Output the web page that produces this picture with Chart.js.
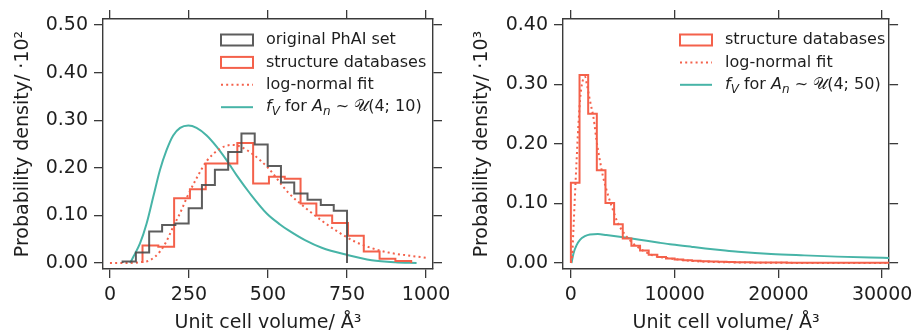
<!DOCTYPE html>
<html><head><meta charset="utf-8">
<script src="https://cdn.jsdelivr.net/npm/chart.js@4.4.1/dist/chart.umd.min.js"></script>
<style>
html,body{margin:0;padding:0;background:#fff;width:919px;height:335px;overflow:hidden}
canvas{position:absolute;top:0}
#c1{left:0}#c2{left:459px}
</style></head>
<body>
<canvas id="c1" width="459" height="335"></canvas>
<canvas id="c2" width="460" height="335"></canvas>
<script>
// ---------- LEFT PANEL DATA ----------
const grayEdges = [40, 82, 124, 165, 207, 249, 291, 332, 374, 416, 458, 499, 541, 583, 625, 667, 708, 750];
const grayDensity = [0.003, 0.022, 0.066, 0.080, 0.083, 0.115, 0.164, 0.196, 0.233, 0.272, 0.249, 0.204, 0.169, 0.146, 0.133, 0.122, 0.110];
const redEdges = [103, 153, 203, 253, 303, 353, 403, 453, 503, 553, 603, 653, 703, 753, 803, 853, 903, 953];
const redDensity = [0.037, 0.034, 0.136, 0.155, 0.209, 0.209, 0.252, 0.167, 0.181, 0.177, 0.125, 0.100, 0.084, 0.057, 0.024, 0.009, 0.004];
const lnLeftX = [0, 50, 100, 127, 158, 179, 200, 222, 243, 274, 306, 348, 385, 411, 453, 500, 564, 620, 670, 720, 775, 830, 881, 940, 1000];
const lnLeftY = [0, 0, 0.002, 0.006, 0.024, 0.046, 0.076, 0.105, 0.137, 0.178, 0.214, 0.240, 0.248, 0.245, 0.228, 0.200, 0.148, 0.115, 0.089, 0.066, 0.045, 0.031, 0.022, 0.016, 0.011];
const tealLeftX = [64, 74, 95, 116, 137, 158, 179, 200, 222, 248, 274, 306, 338, 369, 401, 443, 496, 538, 564, 617, 670, 751, 828, 902, 970];
const tealLeftY = [0, 0.013, 0.041, 0.083, 0.139, 0.195, 0.237, 0.268, 0.284, 0.289, 0.284, 0.268, 0.244, 0.216, 0.184, 0.146, 0.104, 0.081, 0.069, 0.048, 0.032, 0.017, 0.006, 0.0015, 0];
const leftXTicks = [0, 250, 500, 750, 1000];
const leftYTicks = [0.0, 0.1, 0.2, 0.3, 0.4, 0.5];

// ---------- RIGHT PANEL DATA ----------
const redEdgesR = [0, 833, 1667, 2500, 3333, 4167, 5000, 5833, 6667, 7500, 8333, 9167, 10000, 10833, 11667, 12500, 13333, 14167, 15000, 15833, 16667, 17500, 18333, 19167, 20000, 20833, 21667, 22500, 23333, 24167, 25000, 25833, 26667, 27500, 28333, 29167, 30000, 30833, 31667];
const redDensityR = [0.135, 0.316, 0.251, 0.156, 0.101, 0.065, 0.041, 0.029, 0.021, 0.014, 0.010, 0.0075, 0.006, 0.0048, 0.0038, 0.003, 0.0025, 0.002, 0.0017, 0.0014, 0.0012, 0.001, 0.0009, 0.0008, 0.0007, 0.0006, 0.0005, 0.0005, 0.0004, 0.0004, 0.0003, 0.0003, 0.0003, 0.0002, 0.0002, 0.0002, 0.0002, 0.0001];
const lnRightX = [0, 120, 257, 400, 552, 714, 943, 1200, 1362, 1520, 1838, 2219, 2467, 2790, 3100, 3580, 4057, 4530, 5000, 5640, 6590, 7860, 9440, 10700, 12000, 15000, 20000, 25000, 30700];
const lnRightY = [0, 0.012, 0.061, 0.117, 0.173, 0.229, 0.285, 0.310, 0.313, 0.302, 0.273, 0.240, 0.206, 0.173, 0.145, 0.114, 0.089, 0.067, 0.053, 0.039, 0.025, 0.013, 0.008, 0.005, 0.003, 0.0012, 0.0003, 0.0001, 0];
const tealRightX = [64, 250, 552, 876, 1350, 1838, 2600, 3419, 4690, 6620, 8540, 9770, 11700, 12950, 14870, 16120, 19300, 22480, 25650, 28830, 30730];
const tealRightY = [0, 0.016, 0.030, 0.039, 0.045, 0.048, 0.0487, 0.047, 0.044, 0.039, 0.034, 0.031, 0.027, 0.0245, 0.021, 0.019, 0.0152, 0.0128, 0.0107, 0.0091, 0.0084];
const rightXTicks = [0, 10000, 20000, 30000];
const rightYTicks = [0.0, 0.1, 0.2, 0.3, 0.4];

// ---------- TEXT ----------
const xTitle = 'Unit cell volume/ Å³';
const yTitleLeft = 'Probability density/ ·10²';
const yTitleRight = 'Probability density/ ·10³';
const legendLeft = [
  [{t:'original PhAI set'}],
  [{t:'structure databases'}],
  [{t:'log-normal fit'}],
  [{t:'f',it:1},{t:'V',it:1,sub:1},{t:' for '},{t:'A',it:1},{t:'n',it:1,sub:1},{t:' ~ '},{t:'𝒰'},{t:'(4; 10)'}]
];
const legendRight = [
  [{t:'structure databases'}],
  [{t:'log-normal fit'}],
  [{t:'f',it:1},{t:'V',it:1,sub:1},{t:' for '},{t:'A',it:1},{t:'n',it:1,sub:1},{t:' ~ '},{t:'𝒰'},{t:'(4; 50)'}]
];

// ---------- STYLE ----------
const GRAY = 'rgba(75,75,75,0.9)';
const RED = '#f4614b';
const TEAL = '#47b4a7';
const AXIS = '#3a3a3a';
const TXT = '#1e1e1e';
const FONT = "'DejaVu Sans', Verdana, sans-serif";

function stepPts(edges, h) {
  const p = [{x: edges[0], y: 0}];
  for (let i = 0; i < h.length; i++) p.push({x: edges[i], y: h[i]});
  p.push({x: edges[edges.length - 1], y: 0});
  return p;
}
function curvePts(xs, ys) { return xs.map((x, i) => ({x, y: ys[i]})); }

function histDS(label, edges, h, color) {
  return {label, data: stepPts(edges, h), borderColor: color, borderWidth: 2, stepped: true,
          pointRadius: 0, fill: false, tension: 0};
}
function curveDS(label, xs, ys, color, dash) {
  return {label, data: curvePts(xs, ys), borderColor: color, borderWidth: 2,
          borderDash: dash || [], pointRadius: 0, fill: false, cubicInterpolationMode: 'monotone'};
}

function drawRich(ctx, segs, x, y, size) {
  let cx = x;
  for (const s of segs) {
    const fs = s.sub ? Math.round(size * 0.72) : size;
    ctx.font = (s.it ? 'italic ' : '') + fs + 'px ' + FONT;
    ctx.fillText(s.t, cx, y + (s.sub ? size * 0.3 : 0));
    cx += ctx.measureText(s.t).width;
  }
}

function legendPlugin(items) {
  return {
    id: 'customLegend',
    afterDraw(chart) {
      const ctx = chart.ctx;
      ctx.save();
      ctx.textBaseline = 'middle';
      ctx.fillStyle = TXT;
      const bx = 221, bw = 32, tx = 266;
      items.forEach((it, i) => {
        const y = 40 + i * 22.4;
        ctx.save();
        ctx.strokeStyle = it.color; ctx.lineWidth = 2;
        if (it.kind === 'box') {
          ctx.strokeRect(bx, y - 5.5, bw, 11);
        } else {
          ctx.setLineDash(it.kind === 'dot' ? [2, 3.2] : []);
          ctx.beginPath(); ctx.moveTo(bx, y); ctx.lineTo(bx + bw, y); ctx.stroke();
        }
        ctx.restore();
        ctx.fillStyle = TXT;
        drawRich(ctx, it.label, tx, y, 16);
      });
      ctx.restore();
    }
  };
}

function axisCommon(extra, tickVals) {
  return Object.assign({
    type: 'linear',
    grid: {display: true, drawOnChartArea: false, drawTicks: true, tickLength: 9, color: AXIS, lineWidth: 1.3},
    border: {display: true, color: AXIS, width: 1.4},
    afterBuildTicks: s => { s.ticks = tickVals.map(v => ({value: v})); }
  }, extra);
}

function makePanel(id, W, datasets, xr, yr, xticks, yticks, yTitle, legendItems, areaLeft, areaRight) {
  const tickFont = {family: FONT, size: 19};
  new Chart(document.getElementById(id), {
    type: 'line',
    data: {datasets},
    plugins: [legendPlugin(legendItems)],
    options: {
      responsive: false, animation: false, devicePixelRatio: 1,
      layout: {padding: 0},
      plugins: {legend: {display: false}, tooltip: {enabled: false}},
      scales: {
        x: axisCommon({position: 'bottom', min: xr[0], max: xr[1],
          ticks: {padding: 6, color: TXT, font: tickFont, callback: v => String(v), maxRotation: 0, autoSkip: false},
          title: {display: true, text: xTitle, color: TXT, font: {family: FONT, size: 19}, padding: {top: 0, bottom: 1}},
          afterFit: s => { s.height = 335 - 269; }}, xticks),
        x2: axisCommon({position: 'top', min: xr[0], max: xr[1],
          ticks: {display: false},
          afterFit: s => { s.height = 19; }}, xticks),
        y: axisCommon({position: 'left', min: yr[0], max: yr[1],
          ticks: {padding: 6, color: TXT, font: tickFont, callback: v => v.toFixed(2), autoSkip: false},
          title: {display: true, text: yTitle, color: TXT, font: {family: FONT, size: 19}, padding: {top: 12, bottom: 0}},
          afterFit: s => { s.width = areaLeft; }}, yticks),
        y2: axisCommon({position: 'right', min: yr[0], max: yr[1],
          ticks: {display: false},
          afterFit: s => { s.width = W - areaRight; }}, yticks)
      }
    }
  });
}

Chart.defaults.font.family = FONT;

makePanel('c1', 459, [
  histDS('original PhAI set', grayEdges, grayDensity, GRAY),
  histDS('structure databases', redEdges, redDensity, RED),
  curveDS('log-normal fit', lnLeftX, lnLeftY, RED, [2, 3.2]),
  curveDS('fV for An ~ U(4; 10)', tealLeftX, tealLeftY, TEAL)
], [-22, 1022], [-0.0126, 0.5126], leftXTicks, leftYTicks, yTitleLeft, [
  {kind: 'box', color: GRAY, label: legendLeft[0]},
  {kind: 'box', color: RED, label: legendLeft[1]},
  {kind: 'dot', color: RED, label: legendLeft[2]},
  {kind: 'line', color: TEAL, label: legendLeft[3]}
], 103, 433);

makePanel('c2', 460, [
  histDS('structure databases', redEdgesR, redDensityR, RED),
  curveDS('log-normal fit', lnRightX, lnRightY, RED, [2, 3.2]),
  curveDS('fV for An ~ U(4; 50)', tealRightX, tealRightY, TEAL)
], [-760, 30670], [-0.0101, 0.4101], rightXTicks, rightYTicks, yTitleRight, [
  {kind: 'box', color: RED, label: legendRight[0]},
  {kind: 'dot', color: RED, label: legendRight[1]},
  {kind: 'line', color: TEAL, label: legendRight[2]}
], 104, 434);
</script>
</body></html>
